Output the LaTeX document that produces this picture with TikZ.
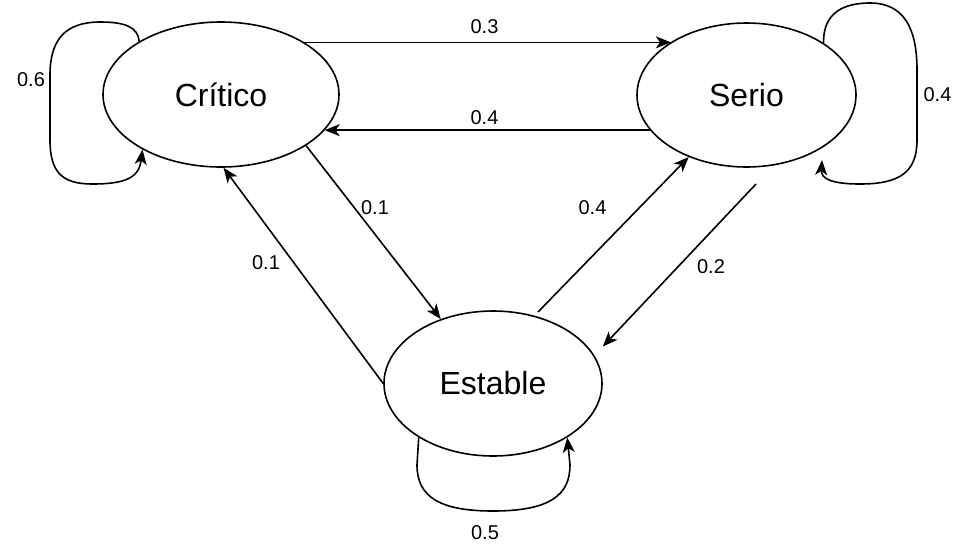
\documentclass[tikz,border=0pt]{standalone}
\usepackage{fontspec}
\setmainfont{Liberation Sans}
\usetikzlibrary{shapes.geometric,arrows.meta}
\begin{document}
\begin{tikzpicture}[x=1pt,y=-1pt,
  state/.style={draw,ellipse,line width=1.6pt,inner sep=0pt,font=\fontsize{32}{36}\selectfont},
  arr/.style={line width=1.6pt,-{Stealth[length=15pt,width=12pt,inset=4pt]}},
  lbl/.style={font=\fontsize{20}{24}\selectfont,inner sep=0pt}]
\useasboundingbox (0,0) rectangle (959,550);
\node[state,minimum width=236pt,minimum height=145pt] (crit) at (221,94.5) {Crítico};
\node[state,minimum width=219pt,minimum height=144pt] (serio) at (746.5,95) {Serio};
\node[state,minimum width=218pt,minimum height=145pt] (est) at (493,383.5) {Estable};
% Critico <-> Serio
\draw[arr] (crit.32.1) -- (serio.145.2 |- crit.32.1);
\draw[arr] (serio.200.8) -- (crit.-19.7 |- serio.200.8);
% Critico <-> Estable
\draw[arr] (crit.-31) -- (est.129.9);
\draw[arr] (est.west) -- (crit.-88.4);
% Estable <-> Serio
\draw[arr] ([shift={(45,-71.5)}]est.center) -- (serio.-133.8);
\draw[arr] ([shift={(9.5,89)}]serio.center) -- ([shift={(0,-37)}]est.east);
% self loops
\draw[arr] (crit.147.7) .. controls (138,27) and (125,22) .. (100,22)
  .. controls (65,22) and (50,40) .. (50,75) -- (50,140)
  .. controls (50,172) and (62,184) .. (92,184)
  .. controls (125,184) and (139,178) .. (crit.-145.1);
\draw[arr] (serio.34.7) .. controls (823,20) and (835,3) .. (870,3)
  .. controls (905,3) and (917,30) .. (917,70) -- (917,140)
  .. controls (917,172) and (900,184) .. (860,184)
  .. controls (830,184) and (821,178) .. ([shift={(75.5,65)}]serio.center);
\draw[arr] (est.-144.9) -- (417,465) .. controls (417,497) and (440,511) .. (493,511)
  .. controls (550,511) and (570,495) .. (570,465) -- (est.-36.3);
% labels
\node[lbl] (l03) at (484.5,27) {0.3};
\node[lbl] (l04a) at (484.5,118) {0.4};
\node[lbl] (l06) at (31,80) {0.6};
\node[lbl] (l04b) at (937.5,95) {0.4};
\node[lbl] (l01a) at (375,208) {0.1};
\node[lbl] (l01b) at (266,263) {0.1};
\node[lbl] (l04c) at (592.5,208) {0.4};
\node[lbl] (l02) at (711,267) {0.2};
\node[lbl] (l05) at (485,533) {0.5};
\end{tikzpicture}
\end{document}
